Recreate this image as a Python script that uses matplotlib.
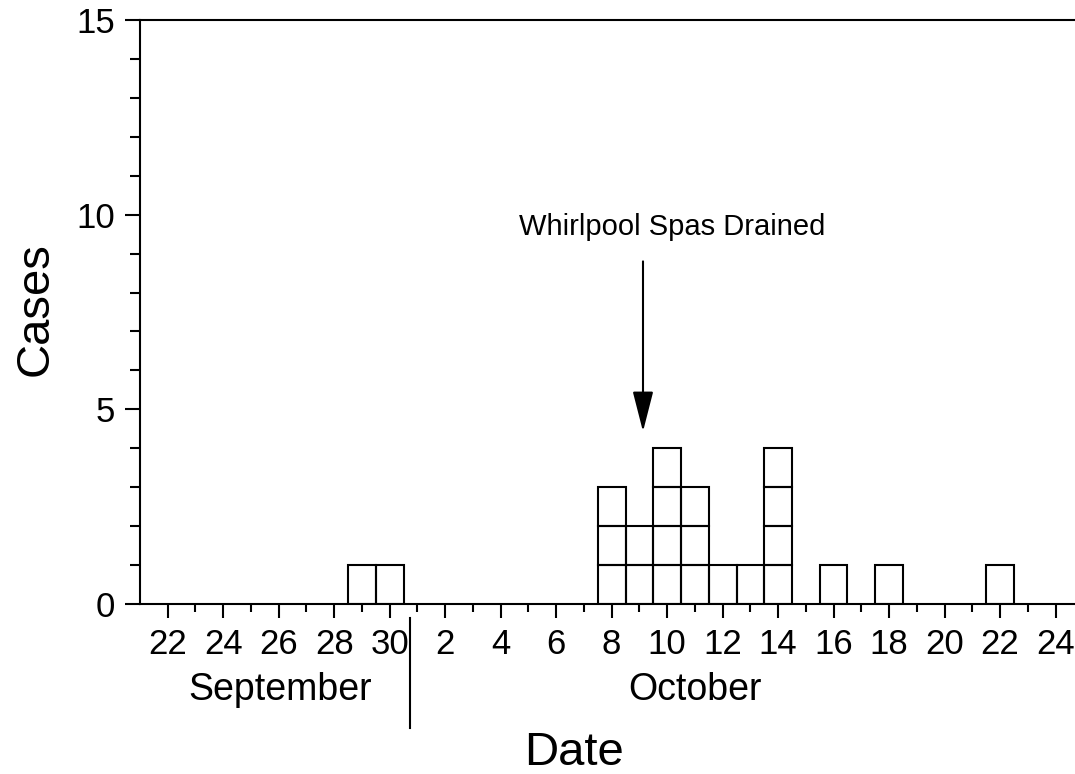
import numpy as np
import matplotlib
matplotlib.use('Agg')
import matplotlib.pyplot as plt
from matplotlib.lines import Line2D
import matplotlib.transforms as mtransforms

plt.rcParams['font.family'] = ['Liberation Sans', 'DejaVu Sans']

# day numbers: September d -> d, October d -> 30 + d
case_days = [29, 30, 38, 39, 40, 41, 42, 43, 44, 46, 48, 52]
case_counts = [1, 1, 3, 2, 4, 3, 1, 1, 4, 1, 1, 1]

tick_days = list(range(22, 31, 2)) + list(range(32, 55, 2))
tick_labels = ['22', '24', '26', '28', '30',
               '2', '4', '6', '8', '10', '12', '14', '16', '18', '20', '22', '24']
months = ['September', 'October']
month_centers = [26.05, 41.0]

event_day = 39.13
event_text = 'Whirlpool Spas Drained'

fig = plt.figure(figsize=(10.75, 7.74), dpi=100)
ax = fig.add_axes([0.1302, 0.2196, 0.8698, 0.7546])

for d, c in zip(case_days, case_counts):
    for k in range(c):
        ax.bar(d, 1, bottom=k, width=1, fill=False, edgecolor='black', linewidth=1.5)

ax.set_xlim(21, 54.7)
ax.set_ylim(0, 15)

ax.spines['right'].set_visible(False)
for s in ['left', 'top', 'bottom']:
    ax.spines[s].set_linewidth(1.5)

ax.set_xticks(tick_days)
ax.set_xticklabels(tick_labels, fontsize=25)
ax.set_xticks(np.arange(23, 55, 2), minor=True)
ax.set_yticks([0, 5, 10, 15])
ax.set_yticklabels(['0', '5', '10', '15'], fontsize=25)
ax.set_yticks(np.arange(0, 16, 1), minor=True)
ax.tick_params(axis='x', which='major', length=10, width=1.5, direction='out', pad=7)
ax.tick_params(axis='x', which='minor', length=6, width=1.5, direction='out')
ax.tick_params(axis='y', which='major', length=11, width=1.5, direction='out', pad=7)
ax.tick_params(axis='y', which='minor', length=7, width=1.5, direction='out')

# month labels under the tick labels
trans = mtransforms.blended_transform_factory(ax.transData, fig.transFigure)
for m, xc in zip(months, month_centers):
    ax.text(xc, 0.0956, m, transform=trans, ha='center', va='baseline', fontsize=27)
sep = mtransforms.blended_transform_factory(ax.transData, ax.transAxes)
ax.add_line(Line2D([30.73, 30.73], [-0.024, -0.212], transform=sep, color='black',
                   linewidth=1.5, clip_on=False))

fig.text(0.534, 0.012, 'Date', ha='center', va='baseline', fontsize=34)
fig.text(0.033, 0.601, 'Cases', ha='center', va='center', rotation=90, fontsize=34)

ax.annotate('', xy=(event_day, 4.43), xytext=(event_day, 8.8),
            arrowprops=dict(arrowstyle='-|>,head_length=2.5,head_width=0.64',
                            color='black', linewidth=1.5, shrinkA=0, shrinkB=0))
ax.text(40.19, 9.68, event_text, ha='center', va='center', fontsize=21)

fig.savefig('out.png', dpi=100)
